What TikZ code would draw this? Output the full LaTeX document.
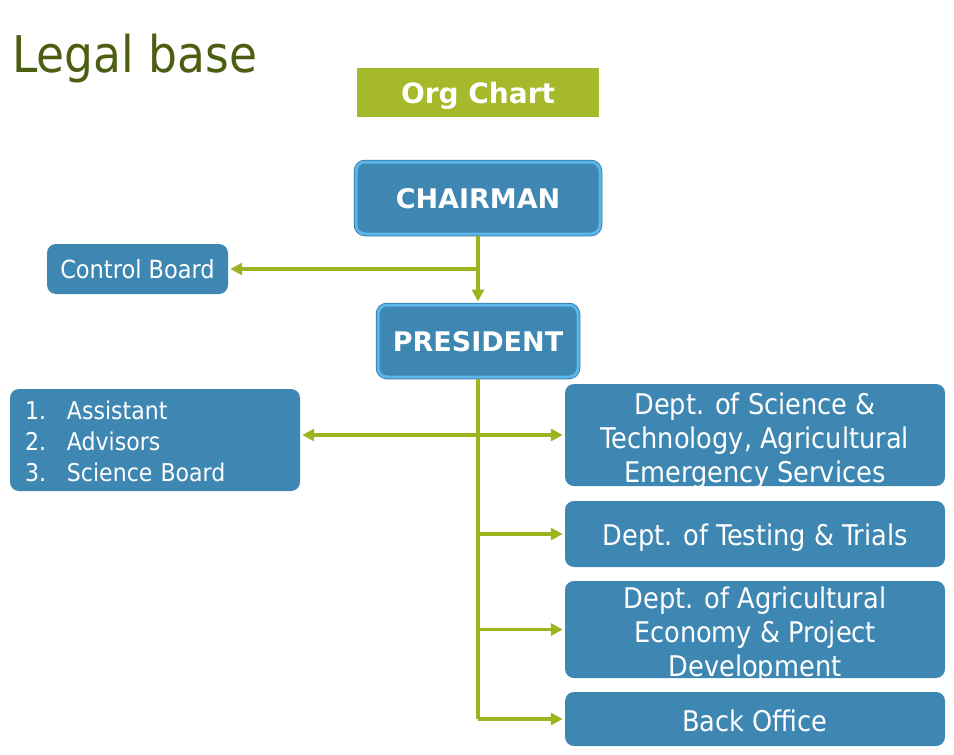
\documentclass[tikz,border=0pt]{standalone}
\usepackage{fontspec}
\setmainfont{DejaVu Sans}
\newfontfamily\condf{DejaVu Sans Condensed}
\usetikzlibrary{arrows.meta}
\definecolor{boxblue}{HTML}{3F87B3}
\definecolor{boxedge}{HTML}{5AB6E8}
\definecolor{boxdark}{HTML}{2F6F9A}
\definecolor{conn}{HTML}{9CB51F}
\definecolor{olive}{HTML}{4B5E12}
\definecolor{orgfill}{HTML}{A6B92A}
\newcommand\ctext[2]{\raisebox{#1}[0pt][0pt]{\begin{tabular}{@{}c@{}}#2\end{tabular}}}
\newcommand\cleft[2]{\raisebox{#1}[0pt][0pt]{\begin{tabular}{@{}l@{}}#2\end{tabular}}}
\tikzset{
  bluebox/.style={rectangle, rounded corners=9pt, fill=boxblue, text=white, inner sep=0pt, align=center},
  topbox/.style={bluebox, preaction={draw=boxdark, line width=4.5pt}, draw=boxedge, line width=3pt, font=\bfseries\fontsize{27}{30}\selectfont},
  deptbox/.style={bluebox, minimum width=380pt, font=\condf\fontsize{28.5}{34}\selectfont},
  sidebox/.style={bluebox, font=\condf\fontsize{24.5}{31}\selectfont},
  link/.style={draw=conn, line width=3.5pt},
  arr/.style={link, -{Triangle[length=12pt,width=12pt]}, shorten >=2pt},
}
\begin{document}
\begin{tikzpicture}[x=1pt,y=-1pt]
\useasboundingbox (0,0) rectangle (954,755);
\node[anchor=base west, text=olive, inner sep=0pt, font=\condf\fontsize{50.6}{56}\selectfont] (title) at (12,72) {Legal base};
\node[rectangle, fill=orgfill, text=white, minimum width=242pt, minimum height=49pt, inner sep=0pt, font=\bfseries\fontsize{28}{30}\selectfont] (org) at (478,92.5) {\ctext{-10.7pt}{Org Chart}};
\node[topbox, minimum width=244pt, minimum height=72pt] (chair) at (478,198) {\ctext{-10.6pt}{CHAIRMAN}};
\node[topbox, minimum width=200pt, minimum height=72pt] (pres) at (478,341) {\ctext{-10.6pt}{PRESIDENT}};
\node[sidebox, minimum width=181pt, minimum height=50pt, font=\condf\fontsize{25}{31}\selectfont] (cb) at (137.5,269) {Control Board};
\node[sidebox, minimum width=290pt, minimum height=102pt, text width=260pt, align=left] (list) at (155,440)
  {\cleft{-10.8pt}{\makebox[42pt][l]{1.}Assistant\\\makebox[42pt][l]{2.}Advisors\\\makebox[42pt][l]{3.}Science Board}};
\node[deptbox, minimum height=102pt] (d1) at (755,435) {\ctext{-12.7pt}{Dept. of Science \&\\Technology, Agricultural\\Emergency Services}};
\node[deptbox, minimum height=66pt] (d2) at (755,534) {\ctext{-10.7pt}{Dept. of Testing \& Trials}};
\node[deptbox, minimum height=97pt] (d3) at (755,629.5) {\ctext{-12.2pt}{Dept. of Agricultural\\Economy \& Project\\Development}};
\node[deptbox, minimum height=54pt] (bo) at (755,719) {\ctext{-11.7pt}{Back Office}};
\coordinate (j1) at (chair.south |- cb.east);
\coordinate (j2) at (pres.south |- d1.west);
\coordinate (j3) at (pres.south |- d2.west);
\coordinate (j4) at (pres.south |- d3.west);
\coordinate (j5) at (pres.south |- bo.west);
\draw[arr] (chair.south) -- (pres.north);
\draw[arr] (j1) -- (cb.east);
\draw[link] (pres.south) -- (j5);
\draw[arr] (j2) -- (list.east |- j2);
\draw[arr] (j2) -- (d1.west);
\draw[arr] (j3) -- (d2.west);
\draw[arr] (j4) -- (d3.west);
\draw[arr] (j5) -- (bo.west);
\end{tikzpicture}
\end{document}
